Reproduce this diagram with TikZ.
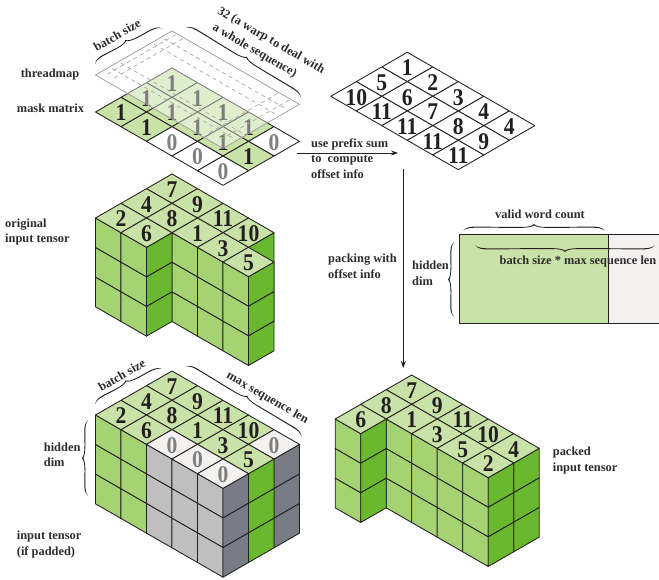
\documentclass[tikz,border=0pt]{standalone}
\usepackage{fontspec}
\setmainfont{Liberation Serif}
\newfontfamily\numfont[FakeStretch=0.9]{Liberation Serif}
\usetikzlibrary{arrows.meta}
\definecolor{topg}{HTML}{C9E2A8}
\definecolor{leftg}{HTML}{A5D273}
\definecolor{rightg}{HTML}{69B82E}
\definecolor{topw}{HTML}{F3F2F1}
\definecolor{leftw}{HTML}{BFBFBF}
\definecolor{rightw}{HTML}{797C85}
\definecolor{ink}{HTML}{231F20}
\definecolor{zero}{HTML}{7F7F7F}
\definecolor{lab}{HTML}{2E2B2C}
\tikzset{
  edge/.style={draw=ink,line width=0.85pt,line join=round},
  num/.style={font=\fontsize{24}{24}\selectfont\numfont\bfseries,text=ink,inner sep=0pt,yshift=-1pt},
  zeronum/.style={num,text=zero},
  lbl/.style={font=\fontsize{12.4}{15.5}\selectfont\bfseries,text=lab,align=left,inner sep=0pt,anchor=west},
  rlbl/.style={font=\fontsize{12.4}{15.5}\selectfont\bfseries,text=lab,align=center,inner sep=0pt},
  arr/.style={draw=ink,line width=0.8pt,-{Stealth[length=7pt,width=5pt]}},
  iso/.style={x={(25.5pt,-14.67pt)},y={(-25.5pt,-14.67pt)},z={(0pt,-29.6pt)}},
  thr/.style={draw=gray!75,line width=0.6pt,dash pattern=on 4pt off 3.5pt},
}
% column: u, v, top, left, right
\newcommand{\tcol}[5]{%
  \foreach \w in {0,1,2}{%
    \path[edge,fill=#4] (#1,#2+1,\w) -- (#1+1,#2+1,\w) -- (#1+1,#2+1,\w+1) -- (#1,#2+1,\w+1) -- cycle;
    \path[edge,fill=#5] (#1+1,#2,\w) -- (#1+1,#2+1,\w) -- (#1+1,#2+1,\w+1) -- (#1+1,#2,\w+1) -- cycle;
  }%
  \path[edge,fill=#3] (#1,#2,0) -- (#1+1,#2,0) -- (#1+1,#2+1,0) -- (#1,#2+1,0) -- cycle;
}
\newcommand{\gcol}[2]{\tcol{#1}{#2}{topg}{leftg}{rightg}}
\newcommand{\wcol}[2]{\tcol{#1}{#2}{topw}{leftw}{rightw}}
\newcommand{\flatcell}[3]{\path[edge,fill=#3] (#1,#2,0) -- (#1+1,#2,0) -- (#1+1,#2+1,0) -- (#1,#2+1,0) -- cycle;}
% prefix, u, v, text
\newcommand{\cellnum}[4]{\node[num] (#1-#2-#3) at (#2+.5,#3+.5,0) {#4};}
\newcommand{\cellzero}[3]{\node[zeronum] (#1-#2-#3) at (#2+.5,#3+.5,0) {0};}
% curly brace, tip to the left of travel: x1,y1,x2,y2,amplitude
\newcommand{\cbrace}[5]{%
  \pgfmathsetmacro{\bL}{veclen(#3-#1,#4-#2)}%
  \pgfmathsetmacro{\bA}{atan2(-(#4-#2),#3-#1)}%
  \pgfmathsetmacro{\bH}{0.5*\bL}%
  \pgfmathsetmacro{\bR}{min(0.22*\bL,14)}%
  \begin{scope}[shift={(#1,#2)},rotate=\bA,x=1pt,y=1pt]
    \fill[ink] (0,0)
      .. controls (0.25*\bR,0.62*#5) and (0.55*\bR,0.62*#5) .. (\bR,0.62*#5)
      -- (\bH-\bR,0.58*#5)
      .. controls (\bH-0.3*\bR,0.58*#5) and (\bH-0.15*\bR,0.72*#5) .. (\bH,#5)
      .. controls (\bH+0.15*\bR,0.72*#5) and (\bH+0.3*\bR,0.58*#5) .. (\bH+\bR,0.58*#5)
      -- (\bL-\bR,0.62*#5)
      .. controls (\bL-0.55*\bR,0.62*#5) and (\bL-0.25*\bR,0.62*#5) .. (\bL,0)
      .. controls (\bL-0.25*\bR,0.62*#5-1.1) and (\bL-0.55*\bR,0.62*#5-1.1) .. (\bL-\bR,0.62*#5-1)
      -- (\bH+\bR,0.58*#5-0.9)
      .. controls (\bH+0.3*\bR,0.58*#5-0.8) and (\bH+0.15*\bR,0.72*#5-0.6) .. (\bH,#5-1.4)
      .. controls (\bH-0.15*\bR,0.72*#5-0.6) and (\bH-0.3*\bR,0.58*#5-0.8) .. (\bH-\bR,0.58*#5-0.9)
      -- (\bR,0.62*#5-1)
      .. controls (0.55*\bR,0.62*#5-1.1) and (0.25*\bR,0.62*#5-1.1) .. (0,0) -- cycle;
  \end{scope}%
}
\begin{document}
\begin{tikzpicture}[x=1pt,y=-1pt]
\useasboundingbox (0,0) rectangle (659,580);

% ---- mask matrix
\begin{scope}[shift={(172,68)},iso]
  \flatcell{0}{0}{topg}\flatcell{1}{0}{topg}\flatcell{2}{0}{topg}\flatcell{3}{0}{topg}\flatcell{4}{0}{white}
  \flatcell{0}{1}{topg}\flatcell{1}{1}{topg}\flatcell{2}{1}{topg}\flatcell{3}{1}{topg}\flatcell{4}{1}{topg}
  \flatcell{0}{2}{topg}\flatcell{1}{2}{topg}\flatcell{2}{2}{white}\flatcell{3}{2}{white}\flatcell{4}{2}{white}
  \foreach \u/\v in {0/0,1/0,2/0,3/0,0/1,1/1,2/1,3/1,4/1,0/2,1/2}{\cellnum{m}{\u}{\v}{1}}
  \foreach \u/\v in {4/0,2/2,3/2,4/2}{\cellzero{m}{\u}{\v}}
\end{scope}
% ---- threadmap overlay
\begin{scope}[shift={(172,31)},iso]
  \path[fill=white,fill opacity=0.42] (0,0,0) -- (5,0,0) -- (5,3,0) -- (0,3,0) -- cycle;
  \foreach \v in {0.42,0.8,2.1,2.45}{\draw[thr] (0.1,\v,0) -- (4.95,\v,0);}
  \foreach \u in {0.2,0.47,4.2,4.65}{\draw[thr] (\u,0.05,0) -- (\u,2.75,0);}
  \draw[draw=gray!80,line width=0.7pt] (0,0,0) -- (5,0,0) -- (5,3,0) -- (0,3,0) -- cycle;
\end{scope}

% ---- offset grid
\begin{scope}[shift={(407.3,52.3)},iso]
  \foreach \u in {0,...,4}{\foreach \v in {0,1,2}{\flatcell{\u}{\v}{white}}}
  \foreach \u/\v/\t in {0/0/1,1/0/2,2/0/3,3/0/4,4/0/4,0/1/5,1/1/6,2/1/7,3/1/8,4/1/9,0/2/10,1/2/11,2/2/11,3/2/11,4/2/11}{\cellnum{o}{\u}{\v}{\t}}
\end{scope}

% ---- original input tensor
\begin{scope}[shift={(172,174)},iso]
  \gcol{0}{0}\gcol{1}{0}\gcol{0}{1}\gcol{2}{0}\gcol{1}{1}\gcol{0}{2}\gcol{3}{0}\gcol{2}{1}\gcol{1}{2}\gcol{3}{1}\gcol{4}{1}
  \foreach \u/\v/\t in {0/0/7,1/0/9,2/0/11,3/0/10,0/1/4,1/1/8,2/1/1,3/1/3,4/1/5,0/2/2,1/2/6}{\cellnum{a}{\u}{\v}{\t}}
\end{scope}

% ---- input tensor (if padded)
\begin{scope}[shift={(172,371)},iso]
  \gcol{0}{0}\gcol{1}{0}\gcol{0}{1}\gcol{2}{0}\gcol{1}{1}\gcol{0}{2}\gcol{3}{0}\gcol{2}{1}\gcol{1}{2}
  \wcol{4}{0}\gcol{3}{1}\wcol{2}{2}\gcol{4}{1}\wcol{3}{2}\wcol{4}{2}
  \foreach \u/\v/\t in {0/0/7,1/0/9,2/0/11,3/0/10,0/1/4,1/1/8,2/1/1,3/1/3,4/1/5,0/2/2,1/2/6}{\cellnum{b}{\u}{\v}{\t}}
  \foreach \u/\v in {4/0,2/2,3/2,4/2}{\cellzero{b}{\u}{\v}}
\end{scope}

% ---- packed input tensor
\begin{scope}[shift={(411.7,375)},iso]
  \gcol{0}{0}\gcol{1}{0}\gcol{0}{1}\gcol{2}{0}\gcol{1}{1}\gcol{0}{2}\gcol{3}{0}\gcol{2}{1}\gcol{4}{0}\gcol{3}{1}\gcol{4}{1}
  \foreach \u/\v/\t in {0/0/7,1/0/9,2/0/11,3/0/10,4/0/4,0/1/8,1/1/1,2/1/3,3/1/5,4/1/2,0/2/6}{\cellnum{c}{\u}{\v}{\t}}
\end{scope}

% ---- word-count rectangle
\path[edge,fill=topg] (459.3,234.3) rectangle (608.3,323.3);
\path[edge,fill=topw] (608.3,234.3) rectangle (662,323.3);

% ---- arrows
\coordinate (h1) at (297,153);
\coordinate (h2) at (398,153);
\coordinate (v1) at (403.3,169);
\coordinate (v2) at (403.3,368);
\draw[arr] (h1) -- (h2);
\draw[arr] (v1) -- (v2);

% ---- braces
\cbrace{95}{64}{162.3}{28.3}{7}
\cbrace{185.7}{27.7}{301}{97.7}{7}
\cbrace{95}{404.3}{162.3}{369}{7}
\cbrace{185.7}{366.7}{301.7}{436.7}{7}
\cbrace{88}{496}{88}{420}{6}
\cbrace{454}{317}{454}{242}{6}
\cbrace{463}{231}{605}{231}{7}
\cbrace{655}{245}{475}{245}{7}

% ---- labels
\node[rlbl,rotate=30] (l1) at (117,35) {batch size};
\node[rlbl,rotate=-30] (l2) at (271,41) {32 (a warp to deal with};
\node[rlbl,rotate=-30] (l3) at (254.5,51) {a whole sequence)};
\node[rlbl] (l4) at (50,75) {threadmap};
\node[rlbl] (l5) at (50.5,108) {mask matrix};
\node[lbl] (l6) at (311,158.5) {use prefix sum\\to\ \ compute\\offset info};
\node[lbl] (l7) at (5,232) {original\\input tensor};
\node[lbl] (l8) at (328,266.5) {packing with\\offset info};
\node[lbl] (l9) at (412,273.5) {hidden\\dim};
\node[rlbl] (l10) at (540,214) {valid word count};
\node[rlbl] (l11) at (578,262) {batch size * max sequence len};
\node[rlbl,rotate=30] (l12) at (121.7,375) {batch size};
\node[rlbl,rotate=-30] (l13) at (267.3,398.3) {max sequence len};
\node[lbl] (l14) at (43.7,455) {hidden\\dim};
\node[lbl] (l15) at (16.7,544.5) {input tensor\\(if padded)};
\node[lbl] (l16) at (552.7,460.5) {packed\\input tensor};
\end{tikzpicture}
\end{document}
